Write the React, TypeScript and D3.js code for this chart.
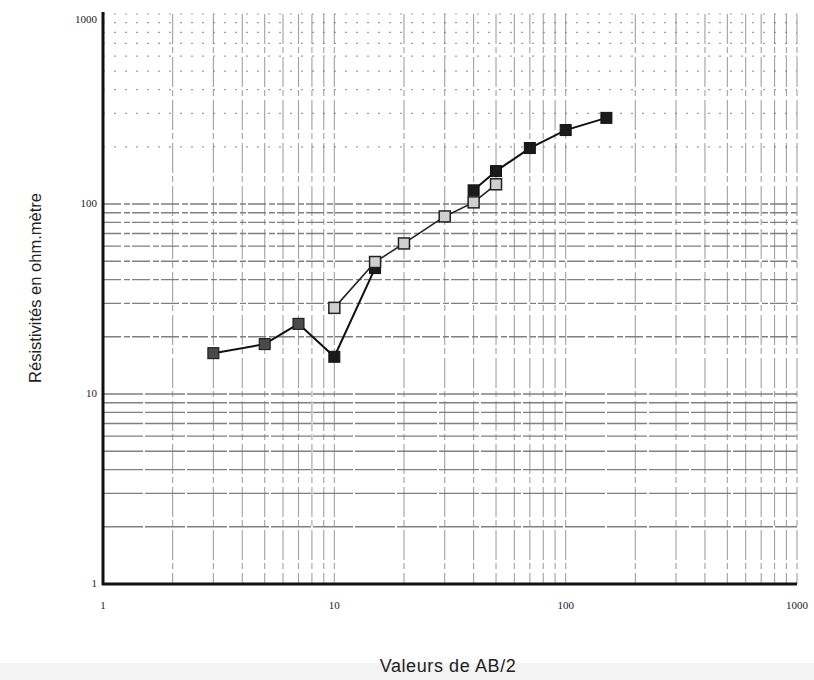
import React from "react";
import * as d3 from "d3";

// sondage 1 (carrés pleins) - null = pas de point
const abFilled = [3, 5, 7, 10, 15, 20, 30, 40, 50, 70, 100, 150];
const rhoFilled: (number | null)[] = [16.4, 18.3, 23.4, 15.7, 46, null, null, 118, 149, 197, 245, 284];

// sondage 2 (carrés vides)
const abOpen = [10, 15, 20, 30, 40, 50];
const rhoOpen = [28.4, 49.5, 62, 86, 102, 127];

const xTicks = [1, 10, 100, 1000];
const yTicks = [1, 10, 100, 1000];

const width = 814;
const height = 680;
const margin = { left: 103, right: 17, top: 14, bottom: 96 };

const App = () => {
  const x = d3.scaleLog().domain([1, 1000]).range([margin.left, width - margin.right]);
  const y = d3.scaleLog().domain([1, 1000]).range([height - margin.bottom, margin.top]);

  // lignes du papier log-log
  const minor: number[] = [];
  [1, 10, 100].forEach(dec => {
    for (let k = 2; k <= 10; k++) minor.push(dec * k);
  });

  const filledPts = abFilled.map((a, i) => ({ a, r: rhoFilled[i] }));
  const openPts = abOpen.map((a, i) => ({ a, r: rhoOpen[i] }));

  const line = d3
    .line<{ a: number; r: number | null }>()
    .defined(d => d.r !== null)
    .x(d => x(d.a))
    .y(d => y(d.r as number));

  const sq = 11;

  return (
    <svg width={width} height={height} style={{ position: "absolute", left: 0, top: 0, background: "#fff" }}>
      <rect x={0} y={663} width={width} height={height - 663} fill="#f3f3f3" />
      {/* horizontal grid */}
      {minor.map((v, i) => (
        <line
          key={"h" + i}
          x1={x(1)}
          x2={x(1000)}
          y1={y(v)}
          y2={y(v)}
          stroke={v > 100 ? "#888" : "#6a6a6a"}
          strokeWidth={v > 100 ? 1.2 : 1.4}
          strokeDasharray={v > 100 ? "2 9" : v > 10 ? "18 3 6 2" : "40 2"}
          opacity={v > 100 ? 0.8 : 0.85}
        />
      ))}
      {/* vertical grid */}
      {minor.map((v, i) => (
        <line
          key={"v" + i}
          x1={x(v)}
          x2={x(v)}
          y1={y(1000)}
          y2={y(1)}
          stroke="#7a7a7a"
          strokeWidth={1.1}
          strokeDasharray="30 3 6 4"
          opacity={0.7}
        />
      ))}
      {/* axes */}
      <line x1={x(1)} x2={x(1)} y1={y(1000) - 2} y2={y(1) + 1} stroke="#111" strokeWidth={3} />
      <line x1={x(1) - 1} x2={x(1000)} y1={y(1)} y2={y(1)} stroke="#111" strokeWidth={3} />

      {yTicks.map(t => (
        <text
          key={"yt" + t}
          x={x(1) - 6}
          y={y(t) + (t === 1000 ? 6 : 0)}
          textAnchor="end"
          dominantBaseline="middle"
          fontFamily="Liberation Serif, serif"
          fontSize={11}
          fill="#222"
        >
          {t}
        </text>
      ))}
      {xTicks.map(t => (
        <text
          key={"xt" + t}
          x={x(t)}
          y={y(1) + 22}
          textAnchor="middle"
          dominantBaseline="middle"
          fontFamily="Liberation Serif, serif"
          fontSize={11}
          fill="#222"
        >
          {t}
        </text>
      ))}

      {/* courbes */}
      <path d={line(filledPts) || ""} fill="none" stroke="#111" strokeWidth={2} />
      <path d={line(openPts) || ""} fill="none" stroke="#222" strokeWidth={1.6} />

      {filledPts
        .filter(d => d.r !== null)
        .map((d, i) => (
          <rect
            key={"f" + i}
            x={x(d.a) - sq / 2}
            y={y(d.r as number) - sq / 2}
            width={sq}
            height={sq}
            fill={d.a < 10 ? "#4a4a4a" : "#1a1a1a"}
            stroke="#111"
            strokeWidth={1}
          />
        ))}
      {openPts.map((d, i) => (
        <rect
          key={"o" + i}
          x={x(d.a) - sq / 2}
          y={y(d.r) - sq / 2}
          width={sq}
          height={sq}
          fill="#cfcfcf"
          stroke="#222"
          strokeWidth={1.5}
        />
      ))}

      <text
        x={448}
        y={672}
        textAnchor="middle"
        fontFamily="Liberation Sans, Arial, sans-serif"
        fontSize={18}
        letterSpacing={0.6}
        fill="#222"
      >
        Valeurs de AB/2
      </text>
      <text
        transform={`translate(41,${288}) rotate(-90)`}
        textAnchor="middle"
        fontFamily="Liberation Sans, Arial, sans-serif"
        fontSize={16.5}
        fill="#222"
      >
        Résistivités en ohm.mètre
      </text>
    </svg>
  );
};

export default App;
